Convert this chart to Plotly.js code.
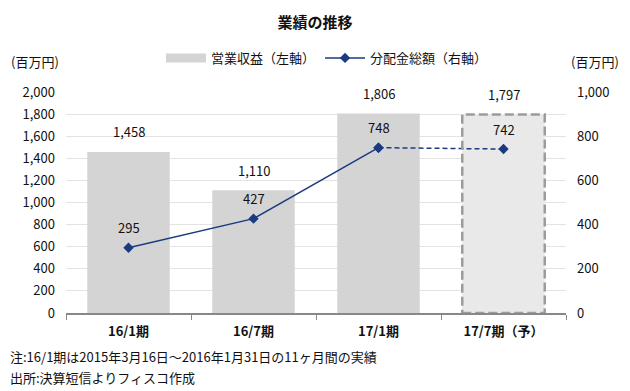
<!DOCTYPE html>
<html><head><meta charset="utf-8">
<script src="https://cdn.plot.ly/plotly-3.0.1.min.js"></script>
<style>body{margin:0;background:#fff}#c{width:630px;height:391px}</style>
</head><body><div id="c"></div>
<script>
const categories = ["16/1期", "16/7期", "17/1期", "17/7期（予）"];
const revenue = [1458, 1110, 1806, 1797];
const distribution = [295, 427, 748, 742];
const revenueLabels = ["1,458", "1,110", "1,806", "1,797"];
const distLabels = ["295", "427", "748", "742"];

const F = '"Noto Sans CJK JP", "Noto Sans", sans-serif';
const barW = 0.66;
const navy = '#1b3a80';
const grey = '#d4d4d4';

const traces = [
  {type:'bar', x:categories, y:revenue, name:'営業収益（左軸）', width:barW, showlegend:false,
   marker:{color:[grey,grey,grey,'#e9e9e9'], line:{width:0}}, hoverinfo:'none'},
  {type:'scatter', mode:'lines', x:[null], y:[null], name:'営業収益（左軸）',
   line:{color:grey, width:9}},
  {type:'scatter', mode:'lines+markers', x:categories.slice(0,3), y:distribution.slice(0,3),
   yaxis:'y2', name:'分配金総額（右軸）', line:{color:navy, width:1.5},
   marker:{symbol:'diamond', size:8, color:navy}},
  {type:'scatter', mode:'lines+markers', x:categories.slice(2), y:distribution.slice(2),
   yaxis:'y2', showlegend:false, line:{color:navy, width:1.5, dash:'5px,3px'},
   marker:{symbol:'diamond', size:8, color:navy}}
];

const ann = [];
categories.forEach((c,i)=>{
  ann.push({x:c, y:revenue[i], xref:'x', yref:'y', text:revenueLabels[i], showarrow:false,
    yshift:20, font:{family:F, size:13, color:'#111'}});
  ann.push({x:c, y:distribution[i], xref:'x', yref:'y2', text:distLabels[i], showarrow:false,
    yshift:20, font:{family:F, size:13, color:'#111'}});
});
ann.push({xref:'paper', yref:'paper', x:-0.062, y:1.136, xanchor:'center', yanchor:'middle', text:'(百万円)', showarrow:false, font:{family:F, size:13, color:'#111'}});
ann.push({xref:'paper', yref:'paper', x:1.058, y:1.136, xanchor:'center', yanchor:'middle', text:'(百万円)', showarrow:false, font:{family:F, size:13, color:'#111'}});
ann.push({xref:'paper', yref:'paper', x:-0.116, y:-0.197, xanchor:'left', yanchor:'middle', text:'注:16/1期は2015年3月16日～2016年1月31日の11ヶ月間の実績', showarrow:false, font:{family:F, size:13, color:'#111'}});
ann.push({xref:'paper', yref:'paper', x:-0.116, y:-0.292, xanchor:'left', yanchor:'middle', text:'出所:決算短信よりフィスコ作成', showarrow:false, font:{family:F, size:13, color:'#111'}});

const shapes = [{type:'rect', xref:'x', yref:'y', x0:3-barW/2, x1:3+barW/2, y0:0, y1:revenue[3],
  line:{color:'#9c9c9c', width:2.5, dash:'9px,4px'}, fillcolor:'rgba(0,0,0,0)', layer:'above'}];

const layout = {
  width:630, height:391,
  margin:{l:66, r:64, t:92, b:78},
  paper_bgcolor:'#fff', plot_bgcolor:'#fff',
  font:{family:F, size:13, color:'#111'},
  title:{text:'<b>業績の推移</b>', x:0.5, xanchor:'center', y:0.942, yanchor:'middle', font:{family:F, size:15, color:'#111'}},
  showlegend:true,
  legend:{orientation:'h', x:0.522, xanchor:'center', y:1.154, yanchor:'middle', font:{family:F, size:13, color:'#111'}, itemwidth:40, traceorder:'normal'},
  xaxis:{type:'category', showgrid:false, showline:true, linecolor:'#888', linewidth:1.5,
    ticks:'outside', ticklen:5, tickcolor:'#888', tickson:'boundaries',
    tickfont:{family:F, size:13, color:'#111', weight:'bold'}, ticklabelstandoff:6,
    range:[-0.5,3.5]},
  yaxis:{range:[0,2000], dtick:200, tickformat:',d', showgrid:true, gridcolor:'#e3e3e3', gridwidth:1,
    zeroline:false, showline:false, ticks:'', tickfont:{family:F, size:13, color:'#111'}, ticklabelstandoff:10},
  yaxis2:{range:[0,1000], dtick:200, tickformat:',d', overlaying:'y', side:'right', showgrid:false,
    zeroline:false, showline:false, ticks:'', tickfont:{family:F, size:13, color:'#111'}, ticklabelstandoff:10},
  annotations:ann, shapes:shapes
};
Plotly.newPlot('c', traces, layout, {displayModeBar:false, staticPlot:true});
</script></body></html>
